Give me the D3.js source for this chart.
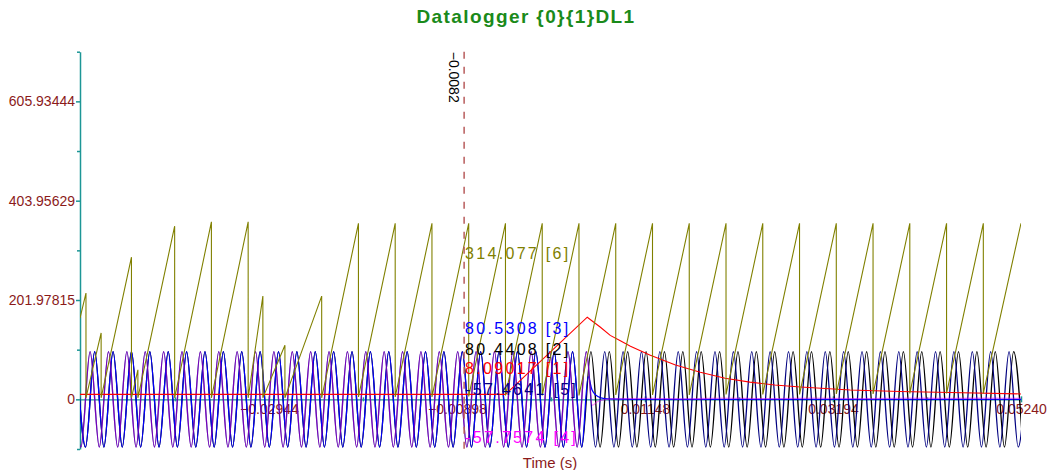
<!DOCTYPE html>
<html>
<head>
<meta charset="utf-8">
<script src="https://cdn.jsdelivr.net/npm/d3@7"></script>
<style>
    body { margin: 0; background: #fff; }
    svg { display: block; font-family: "Liberation Sans", Arial, sans-serif; }
</style>
</head>
<body>
<svg id="chart"></svg>
<script>
// axes
const xDomain = [-0.05, 0.0524];
const yDomain = [-100.98907, 706.92352];
const xTicks = [-0.02944, -0.00898, 0.01148, 0.03194, 0.05240];
const xMinor = [-0.03967, -0.01921, 0.00125, 0.02171, 0.04217];
const yTicks = [0, 201.97815, 403.95629, 605.93444];
const yMinor = [-100.98907, 100.98907, 302.96722, 504.94537, 706.92352];

// cursor
const cursorTime = -0.0082;
const cursorText = ["314.077 [6]", "80.5308 [3]", "80.4408 [2]", "8.09017 [1]", "-57.4641 [5]", "-57.7574 [4]"];

// [2] extrema, [t, value]
const blackPts = [
    [-0.0504, 97], [-0.0494, -97], [-0.0484, 97], [-0.0474, -97], [-0.0464, 97], [-0.0454, -97], [-0.0444, 97], [-0.0434, -97], [-0.0424, 97], [-0.0414, -97],
    [-0.0404, 97], [-0.0394, -97], [-0.0384, 97], [-0.0374, -97], [-0.0364, 97], [-0.0354, -97], [-0.0344, 97], [-0.0334, -97], [-0.0324, 97], [-0.0314, -97],
    [-0.0304, 97], [-0.0294, -97], [-0.0284, 97], [-0.0274, -97], [-0.0264, 97], [-0.0254, -97], [-0.0244, 97], [-0.0234, -97], [-0.0224, 97], [-0.0214, -97],
    [-0.0204, 97], [-0.0194, -97], [-0.0184, 97], [-0.0174, -97], [-0.0164, 97], [-0.0154, -97], [-0.0144, 97], [-0.0134, -97], [-0.0124, 97], [-0.0114, -97],
    [-0.0104, 97], [-0.0094, -97], [-0.0084, 97], [-0.0074, -97], [-0.0064, 97], [-0.0054, -97], [-0.0044, 97], [-0.0034, -97], [-0.0024, 97], [-0.0014, -97],
    [-0.0004, 97], [0.0006, -97], [0.0016, 97], [0.0026, -97], [0.0036, 97], [0.0046, -97], [0.0056, 97], [0.0066, -97], [0.0076, 97], [0.0086, -97],
    [0.0096, 97], [0.0106, -97], [0.0116, 97], [0.0126, -97], [0.0136, 97], [0.0146, -97], [0.0156, 97], [0.0166, -97], [0.0176, 97], [0.0186, -97],
    [0.0196, 97], [0.0206, -97], [0.0216, 97], [0.0226, -97], [0.0236, 97], [0.0246, -97], [0.0256, 97], [0.0266, -97], [0.0276, 97], [0.0286, -97],
    [0.0296, 97], [0.0306, -97], [0.0316, 97], [0.0326, -97], [0.0336, 97], [0.0346, -97], [0.0356, 97], [0.0366, -97], [0.0376, 97], [0.0386, -97],
    [0.0396, 97], [0.0406, -97], [0.0416, 97], [0.0426, -97], [0.0436, 97], [0.0446, -97], [0.0456, 97], [0.0466, -97], [0.0476, 97], [0.0486, -97],
    [0.0496, 97], [0.0506, -97], [0.0516, 97], [0.0526, -97]
];

// [3] runs with [2] until the event, then dies out
const blueTail = [[0.0053, 46], [0.0057, 20], [0.0061, 9], [0.0067, 3], [0.0075, 1], [0.0100, 0], [0.0300, 0], [0.0526, 0]];

// [5] extrema
const navyPts = [
    [-0.0509, 97], [-0.0499, -97], [-0.0489, 97], [-0.0479, -97], [-0.0469, 97], [-0.0459, -97], [-0.0449, 97], [-0.0439, -97], [-0.0429, 97], [-0.0419, -97],
    [-0.0409, 97], [-0.0399, -97], [-0.0389, 97], [-0.0379, -97], [-0.0369, 97], [-0.0359, -97], [-0.0349, 97], [-0.0339, -97], [-0.0329, 97], [-0.0319, -97],
    [-0.0309, 97], [-0.0299, -97], [-0.0289, 97], [-0.0279, -97], [-0.0269, 97], [-0.0259, -97], [-0.0249, 97], [-0.0239, -97], [-0.0229, 97], [-0.0219, -97],
    [-0.0209, 97], [-0.0199, -97], [-0.0189, 97], [-0.0179, -97], [-0.0169, 97], [-0.0159, -97], [-0.0149, 97], [-0.0139, -97], [-0.0129, 97], [-0.0119, -97],
    [-0.0109, 97], [-0.0099, -97], [-0.0089, 97], [-0.0079, -97], [-0.0069, 97], [-0.0059, -97], [-0.0049, 97], [-0.0039, -97], [-0.0029, 97], [-0.0019, -97],
    [-0.0009, 97], [0.0001, -97], [0.0011, 97], [0.0021, -97], [0.0031, 97], [0.0041, -97], [0.0051, 97], [0.0061, -97], [0.0071, 97], [0.0081, -97],
    [0.0091, 97], [0.0101, -97], [0.0111, 97], [0.0121, -97], [0.0131, 97], [0.0141, -97], [0.0151, 97], [0.0161, -97], [0.0171, 97], [0.0181, -97],
    [0.0191, 97], [0.0201, -97], [0.0211, 97], [0.0221, -97], [0.0231, 97], [0.0241, -97], [0.0251, 97], [0.0261, -97], [0.0271, 97], [0.0281, -97],
    [0.0291, 97], [0.0301, -97], [0.0311, 97], [0.0321, -97], [0.0331, 97], [0.0341, -97], [0.0351, 97], [0.0361, -97], [0.0371, 97], [0.0381, -97],
    [0.0391, 97], [0.0401, -97], [0.0411, 97], [0.0421, -97], [0.0431, 97], [0.0441, -97], [0.0451, 97], [0.0461, -97], [0.0471, 97], [0.0481, -97],
    [0.0491, 97], [0.0501, -97], [0.0511, 97], [0.0521, -97], [0.0531, 97]
];

// [4] runs with [5] until the event
const magentaTail = [[0.00575, -12], [0.0063, -5], [0.0070, -1], [0.0080, 1], [0.0120, 2], [0.0160, 1], [0.0200, 2.5], [0.0250, 1.5],
    [0.0300, 2.5], [0.0350, 1.5], [0.0400, 2.5], [0.0450, 2], [0.0500, 2.5], [0.0526, 2]];

// [1]
const redPts = [[-0.05, 10], [-0.0037, 10], [0.0052, 167], [0.0066, 147], [0.0077, 130], [0.0088, 119], [0.0099, 108], [0.0120, 90],
    [0.0148, 70], [0.0175, 55], [0.0202, 43], [0.0229, 35], [0.0256, 29], [0.0284, 25], [0.0338, 19], [0.0392, 16], [0.0447, 14], [0.0524, 11]];

// [6] sawtooth: peak then drop at the same time
const olivePts = [
    [-0.05, 165], [-0.04935, 216], [-0.04935, 3], [-0.0477, 135], [-0.0477, 3], [-0.0444, 289], [-0.0444, 3], [-0.0437, 60], [-0.0437, 3],
    [-0.0397, 352], [-0.0397, 3], [-0.0357, 361], [-0.0357, 3], [-0.0317, 361], [-0.0317, 3], [-0.0301, 210], [-0.0301, 3],
    [-0.0277, 110], [-0.0277, 3], [-0.0237, 210], [-0.0237, 3], [-0.0197, 358], [-0.0197, 5], [-0.0157, 358], [-0.0157, 5],
    [-0.0117, 358], [-0.0117, 5], [-0.0077, 358], [-0.0077, 6], [-0.0037, 358], [-0.0037, 8], [0.0003, 358], [0.0003, 8],
    [0.0043, 358], [0.0043, 8], [0.0083, 358], [0.0083, 9], [0.0123, 358], [0.0123, 9], [0.0163, 358], [0.0163, 9],
    [0.0203, 358], [0.0203, 10], [0.0243, 358], [0.0243, 10], [0.0283, 358], [0.0283, 10], [0.0323, 358], [0.0323, 11],
    [0.0363, 358], [0.0363, 11], [0.0403, 358], [0.0403, 12], [0.0443, 358], [0.0443, 12], [0.0483, 358], [0.0483, 12], [0.0524, 358]
];

const bluePts = blackPts.slice(0, 56).concat(blueTail);
const magentaPts = navyPts.slice(0, 57).concat(magentaTail);

const width = 1051;
const height = 470;
const plot = { left: 80, right: 1021, top: 51.7, bottom: 449 };
const axisColor = "#1c9696";
const labelColor = "#8b1a1a";

const svg = d3.select("#chart")
    .attr("width", width)
    .attr("height", height);

const x = d3.scaleLinear().domain(xDomain).range([plot.left, plot.right]);
const y = d3.scaleLinear().domain(yDomain).range([plot.bottom, plot.top]);

svg.append("text")
    .attr("x", 526)
    .attr("y", 23)
    .attr("text-anchor", "middle")
    .attr("font-size", 19)
    .attr("font-weight", "bold")
    .attr("letter-spacing", 1.4)
    .attr("fill", "#1a8a1a")
    .text("Datalogger {0}{1}DL1");

svg.append("defs").append("clipPath")
    .attr("id", "clip")
    .append("rect")
    .attr("x", plot.left)
    .attr("y", plot.top - 2)
    .attr("width", plot.right - plot.left)
    .attr("height", plot.bottom - plot.top + 4);

// y axis
const yAxis = svg.append("g")
    .attr("transform", `translate(${plot.left},0)`)
    .call(d3.axisLeft(y).tickValues(yTicks).tickSize(4).tickSizeOuter(0).tickPadding(1)
        .tickFormat(d => d === 0 ? "0" : d3.format(".5f")(d)));
yAxis.select(".domain").attr("stroke", axisColor).attr("stroke-width", 1.5);
yAxis.selectAll(".tick line").attr("stroke", axisColor).attr("stroke-width", 1.5);
yAxis.selectAll(".tick text").attr("fill", labelColor).attr("font-size", 14).attr("font-family", "Liberation Sans, Arial, sans-serif");

const yMinorAxis = svg.append("g")
    .attr("transform", `translate(${plot.left},0)`)
    .call(d3.axisLeft(y).tickValues(yMinor).tickSize(3).tickFormat(""));
yMinorAxis.select(".domain").remove();
yMinorAxis.selectAll(".tick line").attr("stroke", axisColor).attr("stroke-width", 1.5);

// x axis along zero
const xAxis = svg.append("g")
    .attr("transform", `translate(0,${y(0)})`)
    .call(d3.axisBottom(x).tickValues(xTicks).tickSize(3).tickSizeOuter(0).tickPadding(2)
        .tickFormat(d3.format(".5f")));
xAxis.select(".domain").attr("stroke", axisColor).attr("stroke-width", 1.2);
xAxis.selectAll(".tick line").attr("stroke", axisColor).attr("y1", -3).attr("stroke-width", 1.5);
xAxis.selectAll(".tick text").attr("fill", labelColor).attr("font-size", 14).attr("font-family", "Liberation Sans, Arial, sans-serif");

const xMinorAxis = svg.append("g")
    .attr("transform", `translate(0,${y(0)})`)
    .call(d3.axisBottom(x).tickValues(xMinor).tickSize(2).tickFormat(""));
xMinorAxis.select(".domain").remove();
xMinorAxis.selectAll(".tick line").attr("stroke", axisColor).attr("y1", -2).attr("stroke-width", 1.5);

svg.append("text")
    .attr("x", 550)
    .attr("y", 468)
    .attr("text-anchor", "middle")
    .attr("font-size", 15)
    .attr("fill", labelColor)
    .text("Time (s)");

// traces
const series = [
    { pts: blackPts, color: "#000000", width: 1.3, curve: d3.curveMonotoneX },
    { pts: bluePts, color: "#0000ff", width: 1.3, curve: d3.curveMonotoneX },
    { pts: navyPts, color: "#000080", width: 1.3, curve: d3.curveMonotoneX },
    { pts: magentaPts, color: "#ff00ff", width: 1.3, curve: d3.curveMonotoneX, opacity: 0.45 },
    { pts: redPts, color: "#ff0000", width: 1.1, curve: d3.curveLinear },
    { pts: olivePts, color: "#808000", width: 1.1, curve: d3.curveLinear }
];

const traces = svg.append("g").attr("clip-path", "url(#clip)");

series.forEach((s) => {
    const line = d3.line()
        .x(d => x(d[0]))
        .y(d => y(d[1]))
        .curve(s.curve);

    traces.append("path")
        .datum(s.pts)
        .attr("fill", "none")
        .attr("stroke", s.color)
        .attr("stroke-width", s.width)
        .attr("stroke-opacity", s.opacity || 1)
        .attr("d", line);
});

// cursor
const cx = x(cursorTime);
svg.append("line")
    .attr("x1", cx).attr("x2", cx)
    .attr("y1", plot.top).attr("y2", plot.bottom)
    .attr("stroke", "#b85c5c")
    .attr("stroke-width", 1.5)
    .attr("stroke-dasharray", "7,8");

svg.append("text")
    .attr("transform", `translate(${cx - 15},${plot.top}) rotate(90)`)
    .attr("font-size", 14)
    .attr("fill", "#000")
    .text(d3.format(".4f")(cursorTime));

const cursorColors = ["#808000", "#0000ff", "#000000", "#ff0000", "#000080", "#ff00ff"];
const cursorBaselines = [259, 334, 355, 374, 395, 443];

svg.selectAll(".cursor-label")
    .data(cursorText)
    .enter()
    .append("text")
    .attr("class", "cursor-label")
    .attr("x", cx + 1)
    .attr("y", (d, i) => cursorBaselines[i])
    .attr("font-size", 16)
    .attr("letter-spacing", 2.3)
    .attr("fill", (d, i) => cursorColors[i])
    .text(d => d);
</script>
</body>
</html>
